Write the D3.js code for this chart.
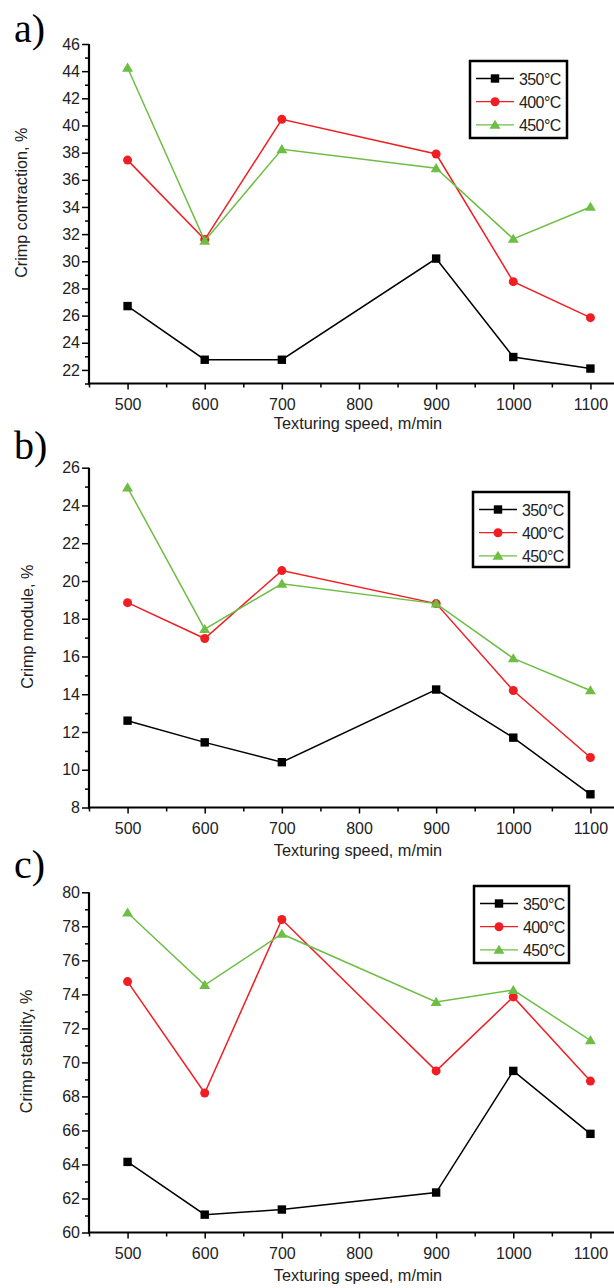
<!DOCTYPE html>
<html><head><meta charset="utf-8">
<script src="https://cdn.jsdelivr.net/npm/d3@7"></script>
<style>
html,body{margin:0;padding:0;background:#fff;}
svg{display:block;}
</style></head>
<body>
<svg id="chart" width="614" height="1288"></svg>
<script>
// ---- data ----
const speeds = [500, 600, 700, 900, 1000, 1100];
const seriesNames = ["350°C", "400°C", "450°C"];
const xTicks = [500, 600, 700, 800, 900, 1000, 1100];

const contraction350 = [26.7, 22.75, 22.75, 30.2, 22.95, 22.1];
const contraction400 = [37.45, 31.6, 40.45, 37.9, 28.5, 25.85];
const contraction450 = [44.25, 31.5, 38.25, 36.85, 31.65, 34.0];

const module350 = [12.6, 11.45, 10.4, 14.25, 11.7, 8.7];
const module400 = [18.85, 16.95, 20.55, 18.8, 14.2, 10.65];
const module450 = [24.95, 17.45, 19.85, 18.8, 15.9, 14.2];

const stability350 = [64.15, 61.05, 61.35, 62.35, 69.5, 65.8];
const stability400 = [74.75, 68.2, 78.4, 69.5, 73.85, 68.9];
const stability450 = [78.8, 74.55, 77.55, 73.55, 74.25, 71.3];

const yTicksA = [22,24,26,28,30,32,34,36,38,40,42,44,46];
const yTicksB = [8,10,12,14,16,18,20,22,24,26];
const yTicksC = [60,62,64,66,68,70,72,74,76,78,80];

// ---- layout ----
const SANS = "Liberation Sans, Arial, sans-serif";
const SERIF = "Liberation Serif, Times New Roman, serif";
const colors = ["#000000", "#f01e23", "#6ebe45"];
const svg = d3.select("#chart");
const left = 89, right = 629;
const x = d3.scaleLinear().domain([450, 1150]).range([left, right]);

const panels = [
  {label:"a)", labelY:42, title:"Crimp contraction, %", titleX:27,
   domain:[21,46], top:44, bottom:383.5, ticks:yTicksA, data:[contraction350,contraction400,contraction450],
   xTitleDy:45, legend:{x:470, y:61, w:97, h:77}},
  {label:"b)", labelY:459, title:"Crimp module, %", titleX:33,
   domain:[8,26], top:467.7, bottom:807.5, ticks:yTicksB, data:[module350,module400,module450],
   xTitleDy:48, legend:{x:473, y:492, w:96, h:75}},
  {label:"c)", labelY:878, title:"Crimp stability, %", titleX:32,
   domain:[60,80], top:892.3, bottom:1232.5, ticks:yTicksC, data:[stability350,stability400,stability450],
   xTitleDy:48.5, legend:{x:474, y:886, w:95, h:77}}
];

function marker(g, i, cx, cy) {
  if (i === 0) {
    g.append("rect").attr("x", cx-4.2).attr("y", cy-4.2).attr("width", 8.4).attr("height", 8.4).attr("fill", colors[0]);
  } else if (i === 1) {
    g.append("circle").attr("cx", cx).attr("cy", cy).attr("r", 4.5).attr("fill", colors[1]);
  } else {
    const s = 5.2;
    g.append("path").attr("d", `M${cx},${cy-s} L${cx+s*1.05},${cy+s*0.75} L${cx-s*1.05},${cy+s*0.75} Z`).attr("fill", colors[2]);
  }
}

panels.forEach(p => {
  const y = d3.scaleLinear().domain(p.domain).range([p.bottom, p.top]);
  const g = svg.append("g");

  // minor ticks
  const yMinor = d3.range(Math.ceil(p.domain[0]), p.domain[1], 1).filter(v => v % 2 !== 0);
  g.append("g").attr("transform", `translate(${left},0)`)
    .call(d3.axisLeft(y).tickValues(yMinor).tickSize(4).tickFormat(""))
    .call(a => a.select(".domain").remove())
    .selectAll("line").attr("stroke-width", 1.5);
  g.append("g").attr("transform", `translate(0,${p.bottom})`)
    .call(d3.axisBottom(x).tickValues([450,550,650,750,850,950,1050,1150]).tickSize(4).tickFormat(""))
    .call(a => a.select(".domain").remove())
    .selectAll("line").attr("stroke-width", 1.5);

  // major y axis
  const ya = g.append("g").attr("transform", `translate(${left},0)`)
    .call(d3.axisLeft(y).tickValues(p.ticks).tickSize(7).tickPadding(2).tickSizeOuter(0).tickFormat(d3.format("d")));
  ya.select(".domain").attr("stroke-width", 2.2).attr("d", `M0,${p.bottom+1}V${p.top}`);
  ya.selectAll("line").attr("stroke-width", 1.5);
  ya.selectAll("text").style("font-family", SANS).style("font-size", "16px").attr("fill", "#222");

  // major x axis
  const xa = g.append("g").attr("transform", `translate(0,${p.bottom})`)
    .call(d3.axisBottom(x).tickValues(xTicks).tickSize(6).tickSizeOuter(0).tickFormat(d3.format("d")));
  xa.select(".domain").attr("stroke-width", 2.2).attr("d", `M${left-1},0H${right}`);
  xa.selectAll("line").attr("stroke-width", 1.5);
  xa.selectAll("text").style("font-family", SANS).style("font-size", "16px").attr("fill", "#222")
    .attr("y", 26).attr("dy", 0);

  // axis titles
  g.append("text").attr("x", (left + right)/2 - 1).attr("y", p.bottom + p.xTitleDy)
    .attr("text-anchor", "middle").style("font-family", SANS).style("font-size", "16.3px")
    .attr("fill", "#222").text("Texturing speed, m/min");
  g.append("text").attr("transform", `translate(${p.titleX},${(p.top+p.bottom)/2 - 11}) rotate(-90)`)
    .attr("text-anchor", "middle").style("font-family", SANS).style("font-size", "16.2px")
    .attr("fill", "#222").text(p.title);

  // panel label
  g.append("text").attr("x", 14).attr("y", p.labelY).style("font-family", SERIF)
    .style("font-size", "40px").attr("fill", "#000").text(p.label);

  // series
  const line = d3.line().x((d, j) => x(speeds[j])).y(d => y(d));
  p.data.forEach((vals, i) => {
    const sg = g.append("g");
    sg.append("path").datum(vals).attr("d", line).attr("fill", "none")
      .attr("stroke", colors[i]).attr("stroke-width", 1.5);
    vals.forEach((v, j) => marker(sg, i, x(speeds[j]), y(v)));
  });

  // legend
  const L = p.legend;
  const lg = g.append("g");
  lg.append("rect").attr("x", L.x).attr("y", L.y).attr("width", L.w).attr("height", L.h)
    .attr("fill", "#fff").attr("stroke", "#000").attr("stroke-width", 2.5);
  seriesNames.forEach((name, i) => {
    const cy = L.y + 17.5 + i * 23.2;
    lg.append("line").attr("x1", L.x + 6).attr("x2", L.x + 44).attr("y1", cy).attr("y2", cy)
      .attr("stroke", colors[i]).attr("stroke-width", 1.3);
    marker(lg, i, L.x + 25, cy);
    lg.append("text").attr("x", L.x + 49).attr("y", cy + 6).style("font-family", SANS)
      .style("font-size", "16px").attr("letter-spacing", -0.6).attr("fill", "#222").text(name);
  });
});
</script>
</body></html>
